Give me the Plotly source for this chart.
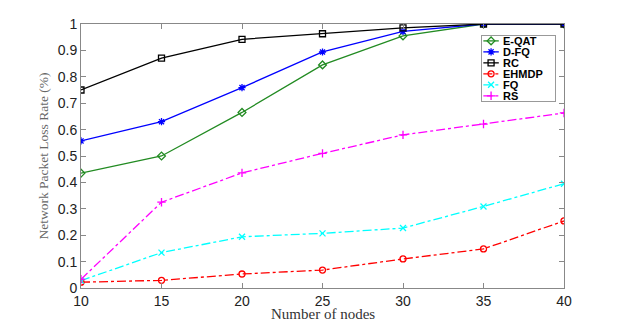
import plotly.graph_objects as go

nodes = [10, 15, 20, 25, 30, 35, 40]

e_qat = [0.435, 0.500, 0.665, 0.845, 0.955, 1.000, 1.000]
d_fq = [0.557, 0.630, 0.759, 0.894, 0.972, 1.000, 1.000]
rc = [0.750, 0.871, 0.942, 0.963, 0.985, 1.000, 1.000]
ehmdp = [0.022, 0.029, 0.053, 0.068, 0.110, 0.148, 0.254]
fq = [0.028, 0.134, 0.194, 0.207, 0.227, 0.309, 0.395]
rs = [0.033, 0.325, 0.436, 0.510, 0.580, 0.621, 0.663]

series = [
    ('E-QAT', e_qat, '#228B22', 'solid', 'diamond-open'),
    ('D-FQ', d_fq, '#0000FF', 'solid', 'asterisk-open'),
    ('RC', rc, '#000000', 'solid', 'square-open'),
    ('EHMDP', ehmdp, '#FF0000', 'dashdot', 'circle-open'),
    ('FQ', fq, '#00FFFF', 'dashdot', 'x-thin-open'),
    ('RS', rs, '#FF00FF', 'dashdot', 'cross-thin-open'),
]

# legend box in plot-fraction coords (MATLAB-style compact legend)
leg_cx, leg_cy = 0.9055, 0.8315
leg_w, leg_h = 73, 65
leg_first, leg_step = 0.936, 0.0416
leg_line = (0.833, 0.865)
leg_text_x = 0.870

fig = go.Figure()
for name, vals, color, dash, sym in series:
    fig.add_trace(go.Scatter(
        x=nodes, y=vals, mode='lines+markers', name=name, showlegend=False,
        line=dict(color=color, width=1.3, dash=dash),
        marker=dict(symbol=sym, size=6, color=color,
                    line=dict(color=color, width=1.3)),
    ))

# legend frame as an empty bordered annotation
fig.add_annotation(x=leg_cx, y=leg_cy, xref='paper', yref='paper',
                   text=' ', showarrow=False, xanchor='center', yanchor='middle',
                   width=leg_w, height=leg_h, borderpad=0,
                   bordercolor='#999999', borderwidth=1)

for i, (name, vals, color, dash, sym) in enumerate(series):
    ly = leg_first - i * leg_step
    fig.add_shape(type='line', xref='paper', yref='paper',
                  x0=leg_line[0], x1=leg_line[1], y0=ly, y1=ly,
                  line=dict(color=color, width=1.3, dash=dash), layer='above')
    fig.add_annotation(x=leg_text_x, y=ly, xref='paper', yref='paper',
                       text=name, showarrow=False, xanchor='left', yanchor='middle',
                       font=dict(family='Liberation Sans, Arial', size=11, color='#000000', weight='bold'))
    fig.add_trace(go.Scatter(
        x=[(leg_line[0] + leg_line[1]) / 2], y=[ly], xaxis='x2', yaxis='y2',
        mode='markers', showlegend=False, hoverinfo='skip',
        marker=dict(symbol=sym, size=6, color=color, line=dict(color=color, width=1.3)),
    ))

# x-axis title placed as annotation so it sits tight under the tick labels
fig.add_annotation(x=0.5, y=-0.1, xref='paper', yref='paper',
                   text='Number of nodes', showarrow=False, xanchor='center', yanchor='middle',
                   font=dict(family='Liberation Serif, Times New Roman', size=15, color='#333333'))

axis_common = dict(
    showgrid=False, zeroline=False, showline=True, linecolor='#888888',
    linewidth=1, mirror='ticks', ticks='inside', ticklen=5, tickcolor='#888888',
    automargin=False,
    tickfont=dict(family='Liberation Sans, Arial', size=14, color='#222222'),
)

# page body has an 8px margin, so the margins are shifted to land the axes in place
fig.update_layout(
    width=623, height=325,
    margin=dict(l=73, r=67, t=16, b=45),
    plot_bgcolor='white', paper_bgcolor='white',
    showlegend=False,
    xaxis=dict(range=[10, 40], tickvals=nodes, **axis_common),
    yaxis=dict(
        range=[0, 1], tickvals=[0, 0.1, 0.2, 0.3, 0.4, 0.5, 0.6, 0.7, 0.8, 0.9, 1],
        ticktext=['0', '0.1', '0.2', '0.3', '0.4', '0.5', '0.6', '0.7', '0.8', '0.9', '1'],
        title=dict(text='Network Packet Loss Rate (%)', standoff=6,
                   font=dict(family='Liberation Serif, Times New Roman', size=13.5, color='#666666')),
        **axis_common,
    ),
    xaxis2=dict(overlaying='x', range=[0, 1], visible=False, fixedrange=True),
    yaxis2=dict(overlaying='y', range=[0, 1], visible=False, fixedrange=True),
)

fig.write_html('out.html')
